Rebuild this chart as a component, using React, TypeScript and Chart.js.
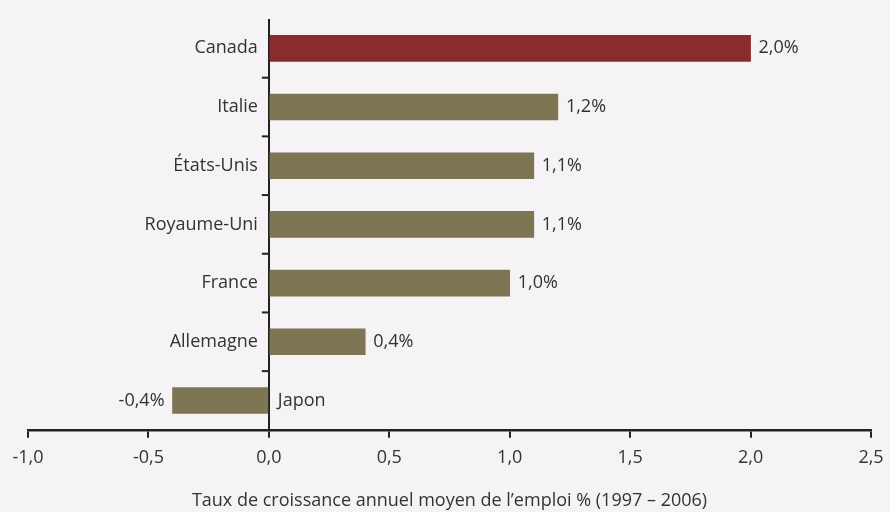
import React, { useEffect, useRef } from "react";
import { Chart, registerables } from "chart.js";

Chart.register(...registerables);

const categories = ["Canada", "Italie", "États-Unis", "Royaume-Uni", "France", "Allemagne", "Japon"];
const values = [2.0, 1.2, 1.1, 1.1, 1.0, 0.4, -0.4];
const valueLabels = ["2,0%", "1,2%", "1,1%", "1,1%", "1,0%", "0,4%", "-0,4%"];
const xTickMin = -1.0;
const xTickMax = 2.5;
const xTitle = "Taux de croissance annuel moyen de l\u2019emploi % (1997 \u2013 2006)";

const FONT = "'Open Sans', 'Noto Sans', sans-serif";
const TEXT = "#333333";
const RED = "#8a2b2e";
const OLIVE = "#7e7553";

const labelPlugin = {
  id: "labelPlugin",
  afterDatasetsDraw(chart: any) {
    const { ctx } = chart;
    const x = chart.scales.x;
    const y = chart.scales.y;
    const zero = x.getPixelForValue(0);
    ctx.save();
    ctx.font = `18px ${FONT}`;
    ctx.fillStyle = TEXT;
    ctx.textBaseline = "middle";
    const meta = chart.getDatasetMeta(0);
    categories.forEach((c, i) => {
      const cy = y.getPixelForValue(i);
      const v = values[i];
      const bar = meta.data[i];
      if (v >= 0) {
        ctx.textAlign = "right";
        ctx.fillText(c, zero - 11, cy);
        ctx.textAlign = "left";
        ctx.fillText(valueLabels[i], bar.x + 8, cy);
      } else {
        ctx.textAlign = "left";
        ctx.fillText(c, zero + 9, cy);
        ctx.textAlign = "right";
        ctx.fillText(valueLabels[i], bar.x - 8, cy);
      }
    });
    ctx.strokeStyle = "#222";
    ctx.lineWidth = 2;
    for (let i = 0; i < categories.length - 1; i++) {
      const by = (y.getPixelForValue(i) + y.getPixelForValue(i + 1)) / 2;
      ctx.beginPath();
      ctx.moveTo(zero - 7, by);
      ctx.lineTo(zero, by);
      ctx.stroke();
    }
    ctx.restore();
  },
};

export default function App() {
  const ref = useRef<HTMLCanvasElement>(null);
  useEffect(() => {
    if (!ref.current) return;
    const chart = new Chart(ref.current, {
      type: "bar",
      data: {
        labels: categories,
        datasets: [
          {
            data: values,
            backgroundColor: categories.map((_, i) => (i === 0 ? RED : OLIVE)),
            barThickness: 26,
            borderWidth: 0,
          },
        ],
      },
      options: {
        indexAxis: "y",
        animation: false,
        responsive: false,
        maintainAspectRatio: false,
        layout: { padding: { left: 28, right: 19, top: 19, bottom: 0 } },
        plugins: { legend: { display: false }, tooltip: { enabled: false } },
        scales: {
          x: {
            min: xTickMin,
            max: xTickMax,
            afterFit: (s: any) => {
              s.paddingLeft = 0;
              s.paddingRight = 0;
            },
            ticks: {
              stepSize: 0.5,
              color: TEXT,
              font: { family: FONT, size: 18 },
              padding: 9,
              callback: (v: any) => Number(v).toFixed(1).replace(".", ","),
            },
            grid: {
              color: (c: any) => (c.tick && c.tick.value === 0 ? "#222" : "transparent"),
              lineWidth: 2,
              tickColor: "#222",
              tickLength: 8,
              drawTicks: true,
            },
            border: { display: true, color: "#222", width: 2.5 },
            title: {
              display: true,
              text: xTitle,
              color: TEXT,
              font: { family: FONT, size: 18 },
              padding: { top: 13, bottom: 0 },
            },
          },
          y: {
            display: false,
          },
        },
      },
      plugins: [labelPlugin],
    });
    return () => chart.destroy();
  }, []);
  return (
    <div style={{ position: "fixed", left: 0, top: 0, width: 890, height: 512, background: "#f5f3f5" }}>
      <canvas ref={ref} width={890} height={512} style={{ width: 890, height: 512, display: "block" }} />
    </div>
  );
}
